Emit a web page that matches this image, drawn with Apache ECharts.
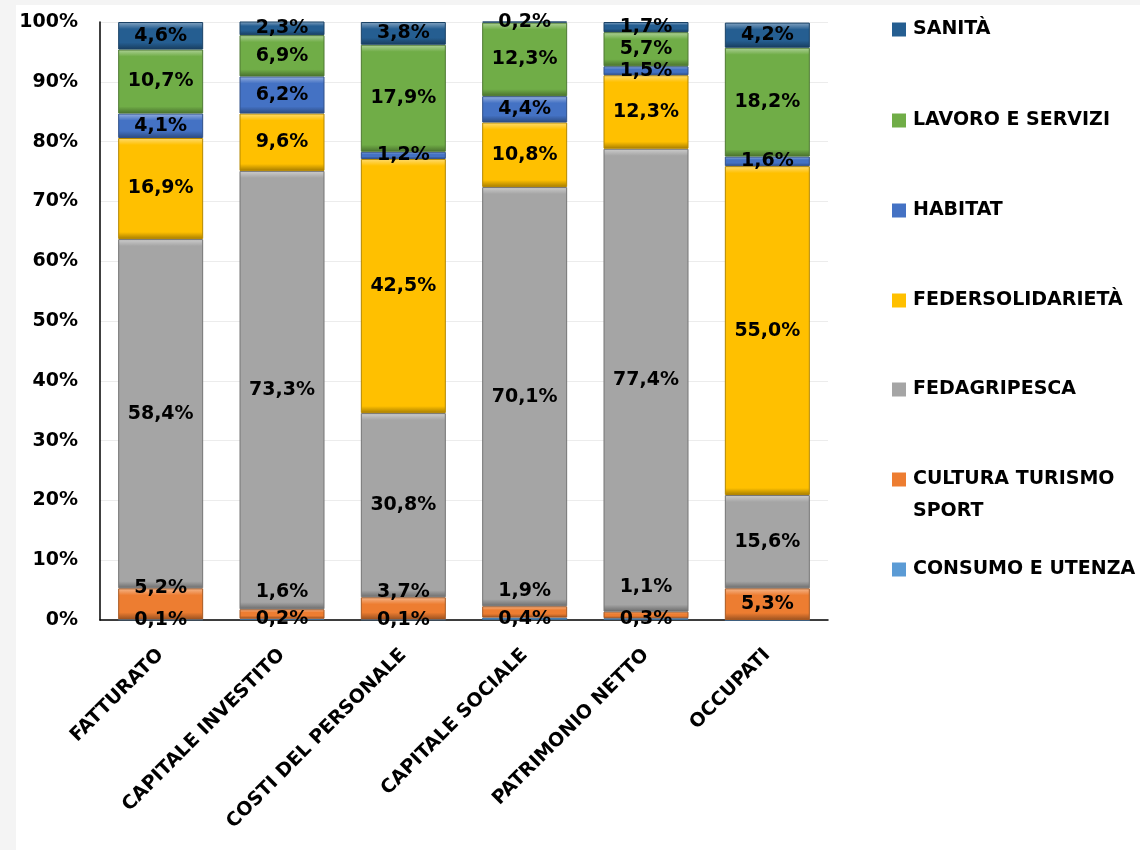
<!DOCTYPE html>
<html>
<head>
<meta charset="utf-8">
<script src="https://cdn.jsdelivr.net/npm/echarts@6/dist/echarts.min.js"></script>
<style>
html,body{margin:0;padding:0;background:#fff;}
#c{width:1140px;height:850px;}
</style>
</head>
<body>
<div id="c"></div>
<script>
const categories = ['FATTURATO','CAPITALE INVESTITO','COSTI DEL PERSONALE','CAPITALE SOCIALE','PATRIMONIO NETTO','OCCUPATI'];
const consumoUtenza = [0.1, 0.2, 0.1, 0.4, 0.3, 0];
const culturaTurismoSport = [5.2, 1.6, 3.7, 1.9, 1.1, 5.3];
const fedagripesca = [58.4, 73.3, 30.8, 70.1, 77.4, 15.6];
const federsolidarieta = [16.9, 9.6, 42.5, 10.8, 12.3, 55.0];
const habitat = [4.1, 6.2, 1.2, 4.4, 1.5, 1.6];
const lavoroServizi = [10.7, 6.9, 17.9, 12.3, 5.7, 18.2];
const sanita = [4.6, 2.3, 3.8, 0.2, 1.7, 4.2];
const yTicks = [0,10,20,30,40,50,60,70,80,90,100];

// layout (not data): manual label nudges for small orange segments
const culturaLabelShift = [-16, -22, -16, -21, -28, 0];

const seriesDefs = [
  {name:'CONSUMO E UTENZA', data:consumoUtenza, color:'#5B9BD5'},
  {name:'CULTURA TURISMO SPORT', data:culturaTurismoSport, color:'#ED7D31', shift:culturaLabelShift},
  {name:'FEDAGRIPESCA', data:fedagripesca, color:'#A5A5A5'},
  {name:'FEDERSOLIDARIETÀ', data:federsolidarieta, color:'#FFC000'},
  {name:'HABITAT', data:habitat, color:'#4472C4'},
  {name:'LAVORO E SERVIZI', data:lavoroServizi, color:'#70AD47'},
  {name:'SANITÀ', data:sanita, color:'#255E91'}
];

function mix(hex, target, t){
  const n = parseInt(hex.slice(1),16);
  const r=(n>>16)&255,g=(n>>8)&255,b=n&255;
  const f=v=>Math.round(v+(target-v)*t);
  return 'rgb('+f(r)+','+f(g)+','+f(b)+')';
}
const pxPerUnit = 598/100;
function bevel(color, v){
  const h = Math.max(v*pxPerUnit, 1);
  const band = Math.min(7, h/3)/h;
  return {
    type:'linear', x:0, y:0, x2:0, y2:1,
    colorStops:[
      {offset:0, color:mix(color,255,0.45)},
      {offset:band, color:color},
      {offset:1-band, color:color},
      {offset:1, color:mix(color,0,0.35)}
    ]
  };
}
const fmt = v => v.toFixed(1).replace('.', ',') + '%';
const FONT = 'DejaVu Sans';

const series = seriesDefs.map(s => ({
  name: s.name,
  type: 'bar',
  stack: 'tot',
  barWidth: 85,
  data: s.data.map((v,i) => ({
    value: v,
    itemStyle: {color: bevel(s.color, v), borderColor: mix(s.color,0,0.3), borderWidth: 1},
    label: s.shift ? {offset:[0, s.shift[i]]} : undefined
  })),
  itemStyle: {color: s.color},
  label: {
    show: true, position: 'inside', color: '#000',
    fontFamily: FONT, fontWeight: 'bold', fontSize: 19,
    formatter: p => p.value ? fmt(p.value) : ''
  },
  emphasis: {disabled: true}
}));

const legendRows = [
  ['SANITÀ', 27],
  ['LAVORO E SERVIZI', 118],
  ['HABITAT', 208],
  ['FEDERSOLIDARIETÀ', 298],
  ['FEDAGRIPESCA', 387],
  ['CULTURA TURISMO SPORT', 477],
  ['CONSUMO E UTENZA', 567]
];
const legends = legendRows.map(([n, y]) => ({
  data: [n], left: 892, top: y - 7, orient: 'vertical', padding: 0,
  icon: 'rect', itemWidth: 14, itemHeight: 14, itemGap: 0,
  selectedMode: false,
  formatter: name => name === 'CULTURA TURISMO SPORT' ? 'CULTURA TURISMO' : name,
  textStyle: {fontFamily: FONT, fontWeight: 'bold', fontSize: 19, color: '#000', padding:[0,0,0,2]}
}));

const chart = echarts.init(document.getElementById('c'), null, {renderer:'canvas'});
chart.setOption({
  animation: false,
  backgroundColor: '#fff',
  graphic: [
    {type:'rect', shape:{x:0,y:0,width:16,height:850}, style:{fill:'#f4f4f4'}, z:-10},
    {type:'rect', shape:{x:0,y:0,width:1140,height:5}, style:{fill:'#f4f4f4'}, z:-10},
    {type:'text', left: 913, top: 502, style:{text:'SPORT', font:'bold 19px "DejaVu Sans"', fill:'#000'}}
  ],
  legend: legends,
  grid: {left: 100, right: 312, top: 22, bottom: 230, containLabel: false},
  xAxis: {
    type: 'category', data: categories,
    axisLine: {show: true, lineStyle: {color: '#000', width: 1.5}},
    axisTick: {show: false},
    axisLabel: {rotate: 45, margin: 32, interval: 0, color: '#000',
      fontFamily: FONT, fontWeight: 'bold', fontSize: 19}
  },
  yAxis: {
    type: 'value', min: yTicks[0], max: yTicks[yTicks.length-1], interval: 10,
    axisLine: {show: true, lineStyle: {color: '#000', width: 1.5}},
    axisTick: {show: false},
    splitLine: {show: true, lineStyle: {color: '#ececec', width: 1}},
    axisLabel: {formatter: v => v + '%', margin: 22, color: '#000',
      fontFamily: FONT, fontWeight: 'bold', fontSize: 19}
  },
  series: series
});
</script>
</body>
</html>
